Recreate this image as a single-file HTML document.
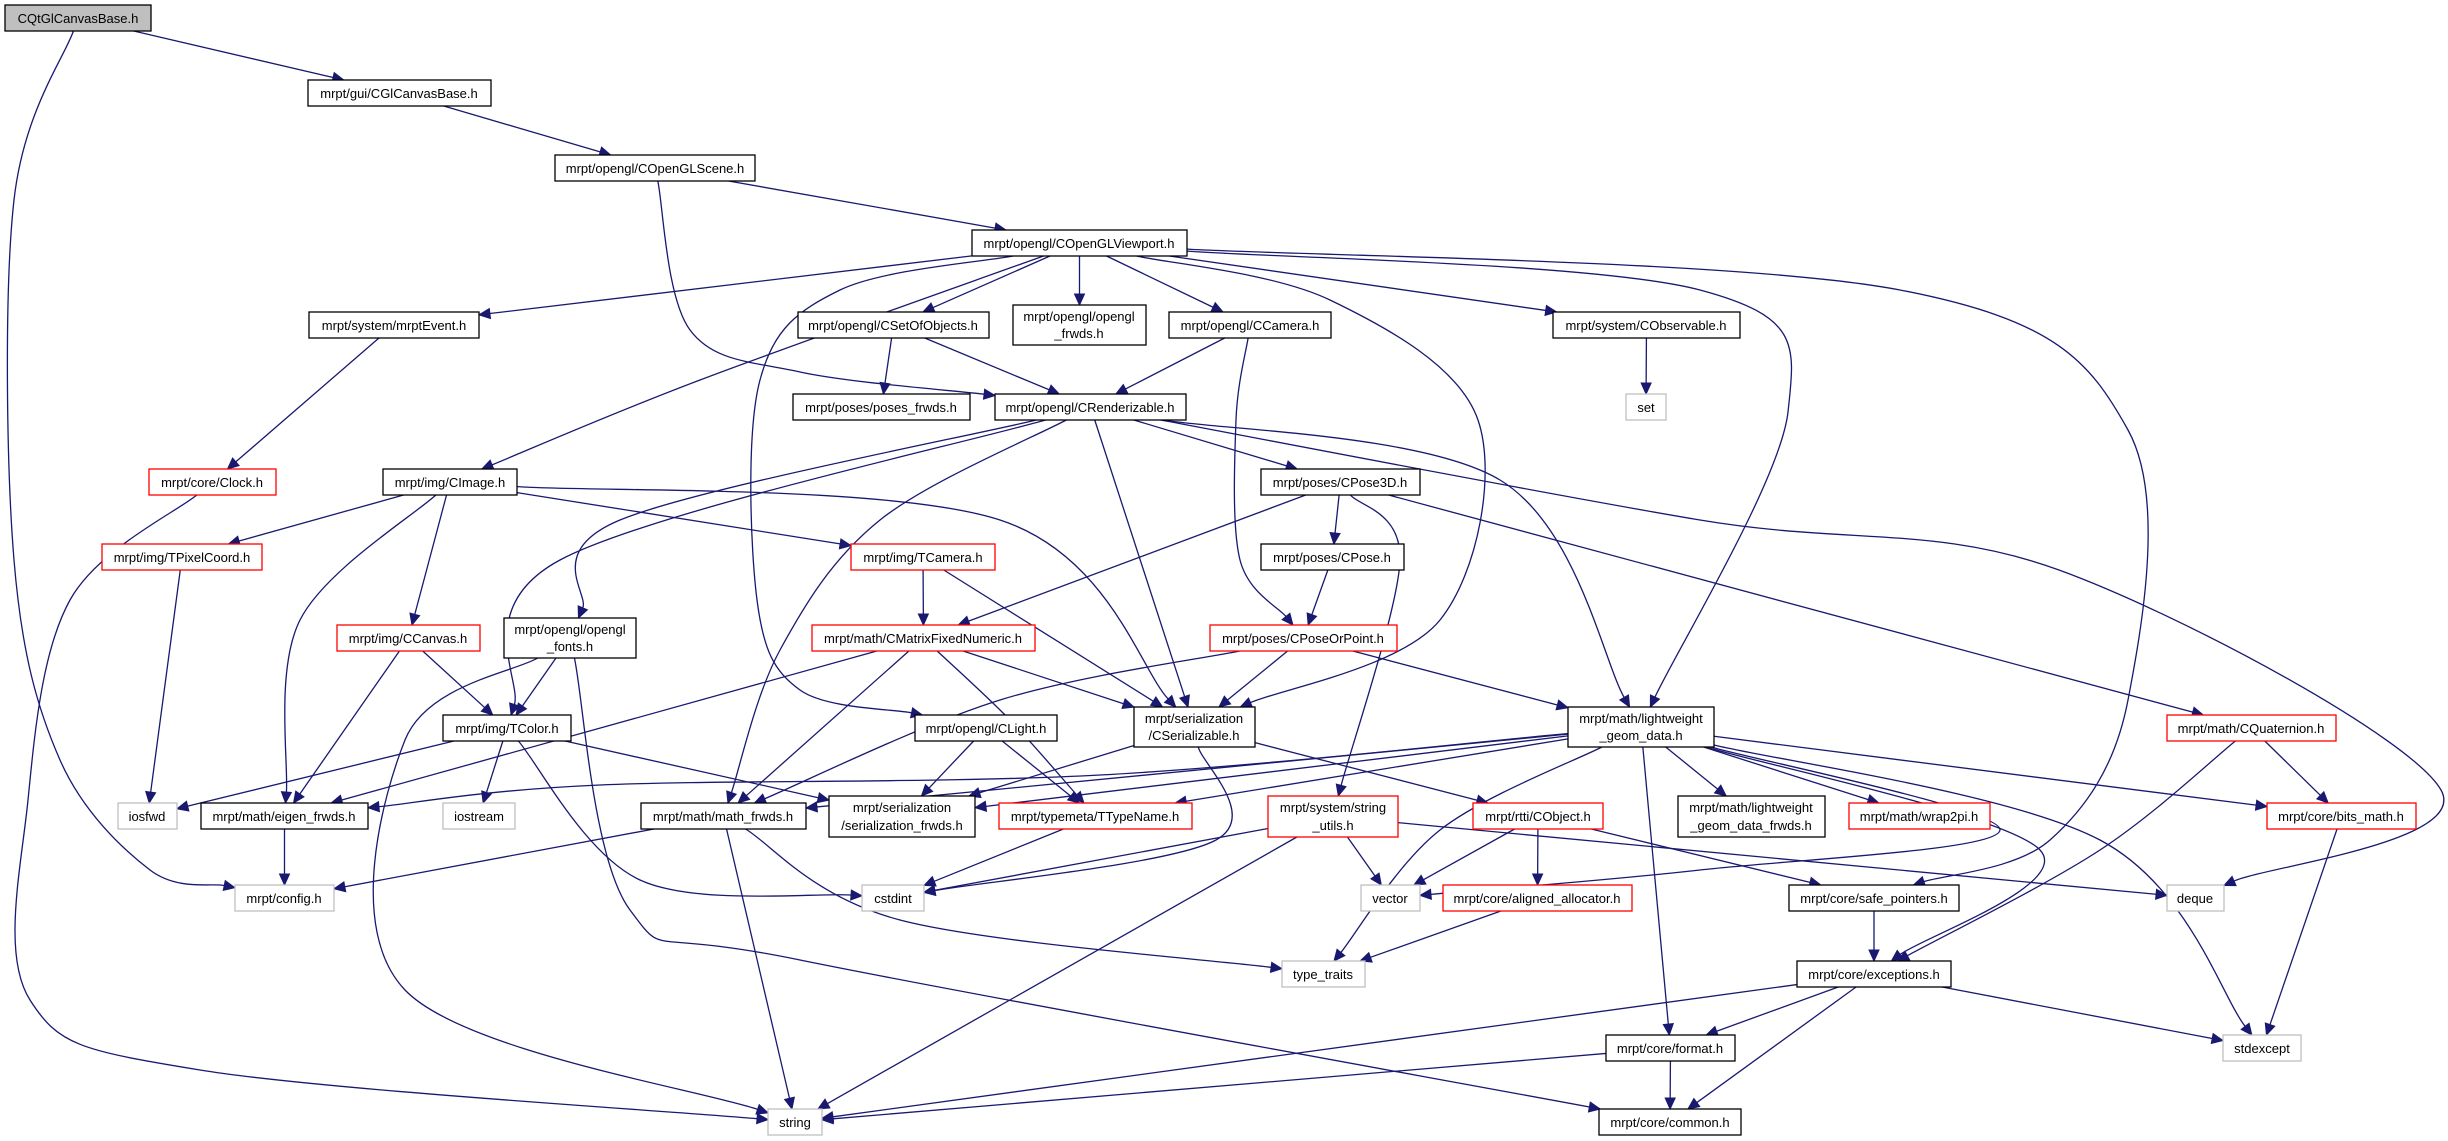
<!DOCTYPE html>
<html><head><meta charset="utf-8">
<style>
html,body{margin:0;padding:0;background:#fff;}
svg{display:block;}
text{font-family:"Liberation Sans",sans-serif;font-size:13px;fill:#000;text-anchor:middle;}
</style></head>
<body>
<svg id="g" width="2448" height="1141" viewBox="0 0 2448 1141" xmlns="http://www.w3.org/2000/svg">
<g id="edges" fill="none" stroke="#191970" stroke-width="1.3"></g>
<g id="arrows" fill="#191970" stroke="#191970" stroke-width="1"></g>
<g id="nodes" stroke-width="1.3">
<rect id="n0" x="5" y="5" width="146" height="26" fill="#bfbfbf" stroke="#000"/><text x="78" y="23">CQtGlCanvasBase.h</text>
<rect id="n1" x="308" y="80" width="183" height="26" fill="#fff" stroke="#000"/><text x="399" y="98">mrpt/gui/CGlCanvasBase.h</text>
<rect id="n2" x="555" y="155" width="200" height="26" fill="#fff" stroke="#000"/><text x="655" y="173">mrpt/opengl/COpenGLScene.h</text>
<rect id="n3" x="972" y="230" width="215" height="26" fill="#fff" stroke="#000"/><text x="1079" y="248">mrpt/opengl/COpenGLViewport.h</text>
<rect id="n4" x="309" y="312" width="170" height="26" fill="#fff" stroke="#000"/><text x="394" y="330">mrpt/system/mrptEvent.h</text>
<rect id="n5" x="798" y="312" width="191" height="26" fill="#fff" stroke="#000"/><text x="893" y="330">mrpt/opengl/CSetOfObjects.h</text>
<rect id="n6" x="1013" y="305" width="133" height="40" fill="#fff" stroke="#000"/><text x="1079" y="321">mrpt/opengl/opengl</text><text x="1079" y="338">_frwds.h</text>
<rect id="n7" x="1169" y="312" width="162" height="26" fill="#fff" stroke="#000"/><text x="1250" y="330">mrpt/opengl/CCamera.h</text>
<rect id="n8" x="1553" y="312" width="187" height="26" fill="#fff" stroke="#000"/><text x="1646" y="330">mrpt/system/CObservable.h</text>
<rect id="n9" x="793" y="394" width="177" height="26" fill="#fff" stroke="#000"/><text x="881" y="412">mrpt/poses/poses_frwds.h</text>
<rect id="n10" x="995" y="394" width="191" height="26" fill="#fff" stroke="#000"/><text x="1090" y="412">mrpt/opengl/CRenderizable.h</text>
<rect id="n11" x="1626" y="394" width="40" height="26" fill="#fff" stroke="#bfbfbf"/><text x="1646" y="412">set</text>
<rect id="n12" x="149" y="469" width="127" height="26" fill="#fff" stroke="#ff0000"/><text x="212" y="487">mrpt/core/Clock.h</text>
<rect id="n13" x="383" y="469" width="134" height="26" fill="#fff" stroke="#000"/><text x="450" y="487">mrpt/img/CImage.h</text>
<rect id="n14" x="1261" y="469" width="159" height="26" fill="#fff" stroke="#000"/><text x="1340" y="487">mrpt/poses/CPose3D.h</text>
<rect id="n15" x="102" y="544" width="160" height="26" fill="#fff" stroke="#ff0000"/><text x="182" y="562">mrpt/img/TPixelCoord.h</text>
<rect id="n16" x="851" y="544" width="144" height="26" fill="#fff" stroke="#ff0000"/><text x="923" y="562">mrpt/img/TCamera.h</text>
<rect id="n17" x="1261" y="544" width="143" height="26" fill="#fff" stroke="#000"/><text x="1332" y="562">mrpt/poses/CPose.h</text>
<rect id="n18" x="337" y="625" width="143" height="26" fill="#fff" stroke="#ff0000"/><text x="408" y="643">mrpt/img/CCanvas.h</text>
<rect id="n19" x="504" y="618" width="132" height="40" fill="#fff" stroke="#000"/><text x="570" y="634">mrpt/opengl/opengl</text><text x="570" y="651">_fonts.h</text>
<rect id="n20" x="812" y="625" width="223" height="26" fill="#fff" stroke="#ff0000"/><text x="923" y="643">mrpt/math/CMatrixFixedNumeric.h</text>
<rect id="n21" x="1210" y="625" width="187" height="26" fill="#fff" stroke="#ff0000"/><text x="1303" y="643">mrpt/poses/CPoseOrPoint.h</text>
<rect id="n22" x="443" y="715" width="128" height="26" fill="#fff" stroke="#000"/><text x="507" y="733">mrpt/img/TColor.h</text>
<rect id="n23" x="915" y="715" width="142" height="26" fill="#fff" stroke="#000"/><text x="986" y="733">mrpt/opengl/CLight.h</text>
<rect id="n24" x="1134" y="707" width="121" height="40" fill="#fff" stroke="#000"/><text x="1194" y="723">mrpt/serialization</text><text x="1194" y="740">/CSerializable.h</text>
<rect id="n25" x="1568" y="707" width="146" height="40" fill="#fff" stroke="#000"/><text x="1641" y="723">mrpt/math/lightweight</text><text x="1641" y="740">_geom_data.h</text>
<rect id="n26" x="2167" y="715" width="169" height="26" fill="#fff" stroke="#ff0000"/><text x="2251" y="733">mrpt/math/CQuaternion.h</text>
<rect id="n27" x="118" y="803" width="59" height="26" fill="#fff" stroke="#bfbfbf"/><text x="147" y="821">iosfwd</text>
<rect id="n28" x="201" y="803" width="167" height="26" fill="#fff" stroke="#000"/><text x="284" y="821">mrpt/math/eigen_frwds.h</text>
<rect id="n29" x="443" y="803" width="72" height="26" fill="#fff" stroke="#bfbfbf"/><text x="479" y="821">iostream</text>
<rect id="n30" x="641" y="803" width="165" height="26" fill="#fff" stroke="#000"/><text x="723" y="821">mrpt/math/math_frwds.h</text>
<rect id="n31" x="829" y="796" width="146" height="41" fill="#fff" stroke="#000"/><text x="902" y="812">mrpt/serialization</text><text x="902" y="830">/serialization_frwds.h</text>
<rect id="n32" x="999" y="803" width="193" height="26" fill="#fff" stroke="#ff0000"/><text x="1095" y="821">mrpt/typemeta/TTypeName.h</text>
<rect id="n33" x="1268" y="796" width="130" height="41" fill="#fff" stroke="#ff0000"/><text x="1333" y="812">mrpt/system/string</text><text x="1333" y="830">_utils.h</text>
<rect id="n34" x="1473" y="803" width="130" height="26" fill="#fff" stroke="#ff0000"/><text x="1538" y="821">mrpt/rtti/CObject.h</text>
<rect id="n35" x="1678" y="796" width="147" height="41" fill="#fff" stroke="#000"/><text x="1751" y="812">mrpt/math/lightweight</text><text x="1751" y="830">_geom_data_frwds.h</text>
<rect id="n36" x="1849" y="803" width="141" height="26" fill="#fff" stroke="#ff0000"/><text x="1919" y="821">mrpt/math/wrap2pi.h</text>
<rect id="n37" x="2267" y="803" width="149" height="26" fill="#fff" stroke="#ff0000"/><text x="2341" y="821">mrpt/core/bits_math.h</text>
<rect id="n38" x="235" y="885" width="99" height="26" fill="#fff" stroke="#bfbfbf"/><text x="284" y="903">mrpt/config.h</text>
<rect id="n39" x="862" y="885" width="62" height="26" fill="#fff" stroke="#bfbfbf"/><text x="893" y="903">cstdint</text>
<rect id="n40" x="1361" y="885" width="59" height="26" fill="#fff" stroke="#bfbfbf"/><text x="1390" y="903">vector</text>
<rect id="n41" x="1443" y="885" width="189" height="26" fill="#fff" stroke="#ff0000"/><text x="1537" y="903">mrpt/core/aligned_allocator.h</text>
<rect id="n42" x="1789" y="885" width="170" height="26" fill="#fff" stroke="#000"/><text x="1874" y="903">mrpt/core/safe_pointers.h</text>
<rect id="n43" x="2167" y="885" width="57" height="26" fill="#fff" stroke="#bfbfbf"/><text x="2195" y="903">deque</text>
<rect id="n44" x="1282" y="961" width="83" height="26" fill="#fff" stroke="#bfbfbf"/><text x="1323" y="979">type_traits</text>
<rect id="n45" x="1797" y="961" width="154" height="26" fill="#fff" stroke="#000"/><text x="1874" y="979">mrpt/core/exceptions.h</text>
<rect id="n46" x="1606" y="1035" width="129" height="26" fill="#fff" stroke="#000"/><text x="1670" y="1053">mrpt/core/format.h</text>
<rect id="n47" x="2223" y="1035" width="78" height="26" fill="#fff" stroke="#bfbfbf"/><text x="2262" y="1053">stdexcept</text>
<rect id="n48" x="768" y="1109" width="54" height="26" fill="#fff" stroke="#bfbfbf"/><text x="795" y="1127">string</text>
<rect id="n49" x="1599" y="1109" width="142" height="26" fill="#fff" stroke="#000"/><text x="1670" y="1127">mrpt/core/common.h</text>
</g>
</svg>
<script>
(function(){
var NS="http://www.w3.org/2000/svg";
function box(i){var r=document.getElementById("n"+i);return{x:+r.getAttribute("x"),y:+r.getAttribute("y"),w:+r.getAttribute("width"),h:+r.getAttribute("height")};}
function clip(b,px,py){
 var cx=b.x+b.w/2,cy=b.y+b.h/2,dx=px-cx,dy=py-cy;
 if(dx===0&&dy===0)return[cx,cy];
 var tx=dx!==0?(b.w/2)/Math.abs(dx):1e9,ty=dy!==0?(b.h/2)/Math.abs(dy):1e9,t=Math.min(tx,ty);
 return[cx+dx*t,cy+dy*t];}
var E=[
[0,1],[0,38,[[14,200],[14,560],[60,760],[150,870]]],[1,2],[2,3],[2,10,[[690,330],[800,372]]],
[3,4],[3,13,[[700,380]]],[3,5],[3,6],[3,7],[3,8],[3,23,[[840,290],[760,380],[757,600],[800,690]]],[3,24,[[1330,300],[1478,420],[1440,620]]],[3,25,[[1700,290],[1788,412]]],[3,42,[[1900,290],[2128,430],[2128,700],[2050,840]]],
[5,9],[5,10],[7,10],[7,21,[[1236,420],[1240,560]]],[8,11],[4,12],[12,48,[[70,600],[28,800],[30,1000],[200,1070]]],
[10,14],[10,19,[[620,520]]],[10,22,[[560,560]]],[10,30,[[880,520],[780,650]]],[10,24],[10,25,[[1500,480]]],[10,43,[[1700,520],[2059,570],[2441,790]]],
[13,15],[13,18],[13,28,[[300,620]]],[13,16],[13,24,[[1000,520]]],
[14,17],[14,20],[14,33,[[1400,560]]],[14,26],[17,21],[15,27],[16,20],[16,24],
[18,22],[18,28],[19,22],[19,48,[[405,740],[405,990]]],[19,49,[[630,910],[800,960]]],
[20,28],[20,30],[20,24],[20,32,[[1010,720]]],[21,30,[[1000,700]]],[21,24],[21,25],
[26,37],[26,45,[[2100,850]]],[22,27],[22,29],[22,39,[[640,880]]],[22,31],
[23,31],[23,32],[24,31],[24,34],[24,39,[[1216,840]]],
[25,28,[[1100,775],[600,785]]],[25,30],[25,31],[25,32],[25,44,[[1440,830]]],[25,35],[25,36],[25,37],[25,40,[[2000,830],[1700,870]]],[25,47,[[2100,840]]],[25,45,[[2040,850]]],[25,46],
[30,38],[30,48],[30,44,[[900,920]]],[28,38],[32,39],[33,39],[33,40],[33,48],[33,43],
[34,40],[34,41],[34,42],[41,44],[42,45],[37,47],[45,48],[45,46],[45,49],[45,47],[46,48],[46,49]
];
var eg=document.getElementById("edges"),ag=document.getElementById("arrows");
E.forEach(function(e){
 var a=box(e[0]),b=box(e[1]),w=e[2]||[];
 var ac=[a.x+a.w/2,a.y+a.h/2],bc=[b.x+b.w/2,b.y+b.h/2];
 var f=w.length?w[0]:bc,l=w.length?w[w.length-1]:ac;
 var s=clip(a,f[0],f[1]),t=clip(b,l[0],l[1]);
 var pts=[s].concat(w).concat([t]);
 var pv=pts[pts.length-2],dx=t[0]-pv[0],dy=t[1]-pv[1],L=Math.sqrt(dx*dx+dy*dy)||1;dx/=L;dy/=L;
 var AL=11,AW=5;
 var base=[t[0]-dx*AL,t[1]-dy*AL];
 pts[pts.length-1]=base;
 var d="M"+pts[0][0]+","+pts[0][1];
 if(pts.length===2){d+=" L"+base[0]+","+base[1];}
 else{
  for(var i=0;i<pts.length-1;i++){
   var p0=pts[i-1]||pts[i],p1=pts[i],p2=pts[i+1],p3=pts[i+2]||pts[i+1];
   var c1=[p1[0]+(p2[0]-p0[0])/6,p1[1]+(p2[1]-p0[1])/6],c2=[p2[0]-(p3[0]-p1[0])/6,p2[1]-(p3[1]-p1[1])/6];
   d+=" C"+c1[0]+","+c1[1]+" "+c2[0]+","+c2[1]+" "+p2[0]+","+p2[1];
  }
 }
 var p=document.createElementNS(NS,"path");p.setAttribute("d",d);eg.appendChild(p);
 var poly=document.createElementNS(NS,"polygon");
 poly.setAttribute("points",t[0]+","+t[1]+" "+(base[0]-dy*AW)+","+(base[1]+dx*AW)+" "+(base[0]+dy*AW)+","+(base[1]-dx*AW));
 ag.appendChild(poly);
});
})();
</script>
</body></html>
